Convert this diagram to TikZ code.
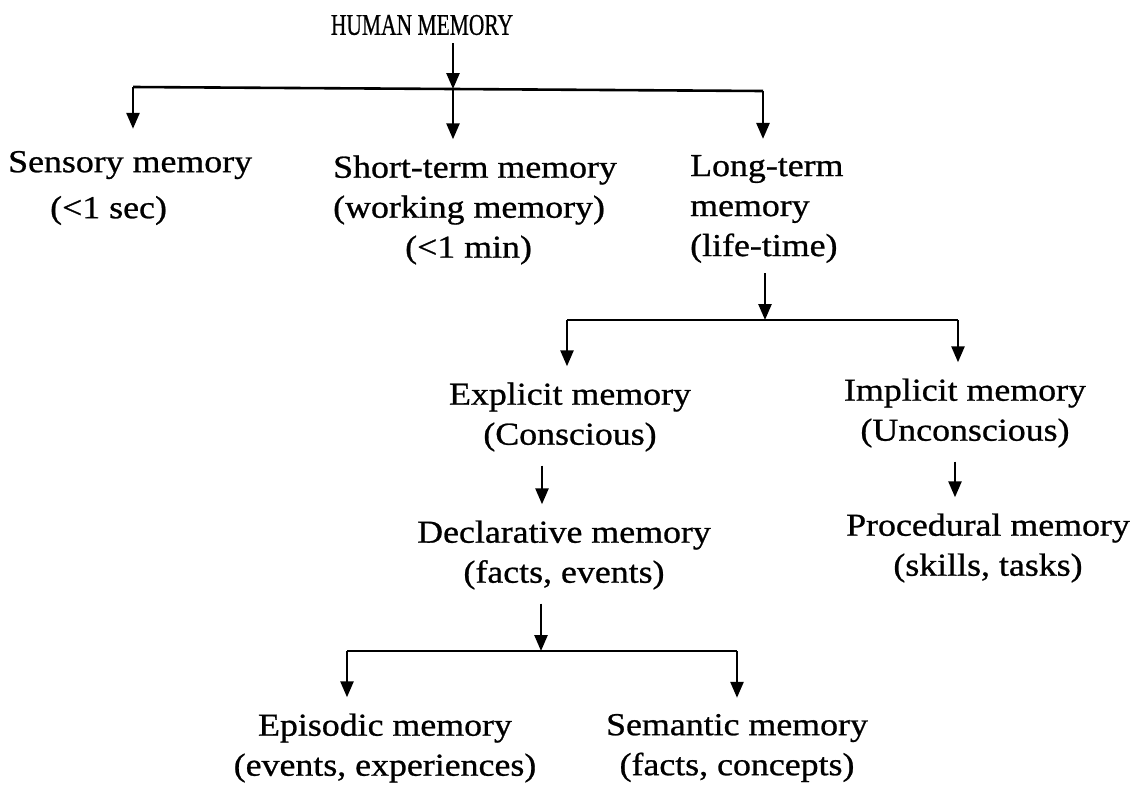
\documentclass[tikz,border=0pt]{standalone}
\usepackage{fontspec}
\setmainfont[FakeStretch=1.12,FakeBold=0.8]{Liberation Serif}
\usetikzlibrary{arrows.meta}
\begin{document}
\begin{tikzpicture}[x=1pt,y=-1pt,
  lbl/.style={inner sep=2pt,font=\fontsize{32}{40}\selectfont},
  conn/.style={line width=2.6pt},
  arr/.style={conn,-{Triangle[length=16pt,width=13pt]},shorten >=14pt}]
\useasboundingbox (0,0) rectangle (1141,785);
% nodes
\node[inner sep=2pt,font=\fontsize{30}{34}\selectfont] (hm) at (422,25) {\scalebox{0.64}[1]{HUMAN MEMORY}};
\node[lbl,anchor=west,align=left] (sens) at (6,188) {Sensory memory\\[6pt]\hspace*{42pt}(<1 sec)};
\node[lbl,anchor=west,align=left] (stm) at (331,210) {Short-term memory\\(working memory)\\\hspace*{72pt}(<1 min)};
\node[lbl,anchor=west,align=left] (ltm) at (688,209) {Long-term\\memory\\(life-time)};
\node[lbl,align=center] (exp) at (570,417) {Explicit memory\\(Conscious)};
\node[lbl,align=center] (imp) at (965,413) {Implicit memory\\(Unconscious)};
\node[lbl,align=center] (dec) at (564,555) {Declarative memory\\(facts, events)};
\node[lbl,align=center] (proc) at (988,548) {Procedural memory\\(skills, tasks)};
\node[lbl,align=center] (epi) at (385,748) {Episodic memory\\(events, experiences)};
\node[lbl,align=center] (sem) at (737,748) {Semantic memory\\(facts, concepts)};
% junction coordinates
\coordinate (j1) at (453,89);
\coordinate (b1l) at (133,87);
\coordinate (b1m) at (453,89);
\coordinate (b1r) at (763,91);
\coordinate (j2) at (765,320);
\coordinate (b2l) at (567,320);
\coordinate (b2r) at (958,320);
\coordinate (j3) at (541,651);
\coordinate (b3l) at (347,651);
\coordinate (b3r) at (737,651);
\coordinate (xd) at (542,0);
\coordinate (xp) at (955,0);
% connectors
\draw[arr,shorten >=0pt] (hm.south -| j1) ++(0,6) -- (j1);
\draw[conn,line join=round] (b1l) -- (b1m) -- (b1r);
\draw[arr,shorten >=20pt] (b1l) -- (b1l |- sens.north);
\draw[arr] (b1m) -- (b1m |- stm.north);
\draw[arr] (b1r) -- (b1r |- ltm.north);
\draw[arr,shorten >=0pt] (ltm.south -| j2) ++(0,8) -- (j2);
\draw[conn] (b2l) -- (b2r);
\draw[arr] (b2l) -- (b2l |- exp.north);
\draw[arr] (b2r) -- (b2r |- imp.north);
\draw[arr] (exp.south -| xd) ++(0,12) -- (dec.north -| xd);
\draw[arr] (imp.south -| xp) ++(0,12) -- (proc.north -| xp);
\draw[arr,shorten >=0pt] (dec.south -| j3) ++(0,12) -- (j3);
\draw[conn] (b3l) -- (b3r);
\draw[arr] (b3l) -- (b3l |- epi.north);
\draw[arr] (b3r) -- (b3r |- sem.north);
\end{tikzpicture}
\end{document}
